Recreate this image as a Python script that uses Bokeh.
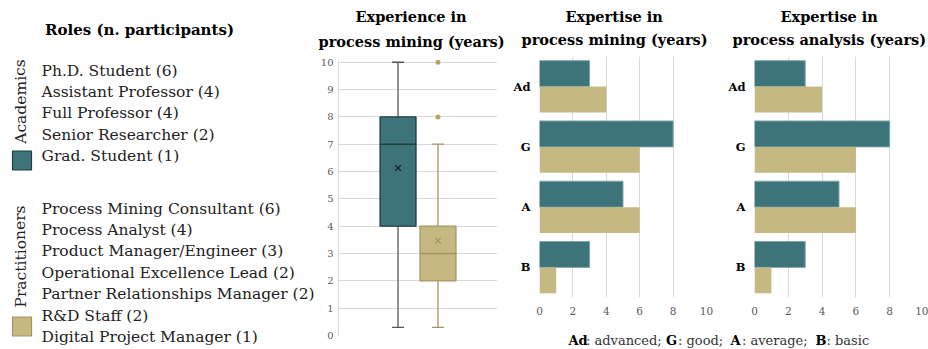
import math
from bokeh.plotting import figure
from bokeh.layouts import row, column
from bokeh.models import Range1d, FactorRange, FixedTicker, Title, ColumnDataSource
from bokeh.transform import dodge
from bokeh.core.properties import value
from bokeh.embed import file_html
from bokeh.resources import INLINE

# ---------------- data ----------------
legend_title = "Roles (n. participants)"
academic_label = "Academics"
practitioner_label = "Practitioners"
academic_roles = ["Ph.D. Student (6)", "Assistant Professor (4)", "Full Professor (4)",
                  "Senior Researcher (2)", "Grad. Student (1)"]
practitioner_roles = ["Process Mining Consultant (6)", "Process Analyst (4)",
                      "Product Manager/Engineer (3)", "Operational Excellence Lead (2)",
                      "Partner Relationships Manager (2)", "R&D Staff (2)",
                      "Digital Project Manager (1)"]

box_title = ["Experience in", "process mining (years)"]
groups = ["Academics", "Practitioners"]
exp_whisker_low = [0.3, 0.3]
exp_q1 = [4, 2]
exp_median = [7, 3]
exp_q3 = [8, 4]
exp_whisker_high = [10, 7]
exp_mean = [6.13, 3.47]
outlier_group = ["Practitioners", "Practitioners"]
outlier_values = [8, 10]
exp_ticks = [0, 1, 2, 3, 4, 5, 6, 7, 8, 9, 10]

levels = ["Ad", "G", "A", "B"]
pm_title = ["Expertise in", "process mining (years)"]
pm_academics = [3, 8, 5, 3]
pm_practitioners = [4, 6, 6, 1]
pa_title = ["Expertise in", "process analysis (years)"]
pa_academics = [3, 8, 5, 3]
pa_practitioners = [4, 6, 6, 1]
bar_ticks = [0, 2, 4, 6, 8, 10]

caption_parts = [("Ad", True), (": advanced;", False), ("G", True), (": good;", False),
                 ("A", True), (": average;", False), ("B", True), (": basic", False)]

# ---------------- styles ----------------
FONT = "DejaVu Serif"
TEAL = "#3d747a"
TAN = "#c4b883"
TEAL_DARK = "#1f3c3f"
TAN_DARK = "#a3955f"
GRID = "#d9d9d9"
TICK_TXT = "#595959"
TXT = "#222222"
TITLE_SIZE = "14.5px"


def bare(fig):
    fig.outline_line_color = None
    return fig


def two_line_title(fig, lines, off1, off2, s1, s2):
    # figure's own title is the outer line; the added one sits next to the frame
    fig.title.text = lines[0]
    fig.title.align = "left"
    fig.title.offset = off1
    fig.title.standoff = s1
    fig.title.text_font = FONT
    fig.title.text_font_size = TITLE_SIZE
    fig.title.text_font_style = "bold"
    fig.title.text_color = "black"
    fig.add_layout(Title(text=lines[1], align="left", offset=off2, standoff=s2, text_font=FONT,
                         text_font_size=TITLE_SIZE, text_font_style="bold", text_color="black"), "above")


def plain_axis(ax, size, color, standoff, bold=False):
    ax.axis_line_color = None
    ax.major_tick_line_color = None
    ax.minor_tick_line_color = None
    ax.major_tick_out = 0
    ax.major_tick_in = 0
    ax.minor_tick_out = 0
    ax.minor_tick_in = 0
    ax.major_label_standoff = standoff
    ax.major_label_text_font = FONT
    ax.major_label_text_font_size = size
    ax.major_label_text_color = color
    if bold:
        ax.major_label_text_font_style = "bold"


# ---------------- legend panel ----------------
LW = 316
leg = figure(width=LW, height=349, x_range=Range1d(0, LW), y_range=Range1d(349, 0),
             x_axis_location=None, y_axis_location=None, toolbar_location=None,
             output_backend="svg", min_border=0)
bare(leg)
leg.grid.visible = False

leg.text(x=[139], y=[29], text=[legend_title], text_font=value(FONT), text_font_size="15px",
         text_font_style="bold", text_align="center", text_baseline="middle", text_color="black")

acad_y = [70 + 21.4 * i for i in range(len(academic_roles))]
prac_y = [208 + 21.4 * i for i in range(len(practitioner_roles))]
leg.text(x=[41] * len(academic_roles), y=acad_y, text=academic_roles, text_font=value(FONT),
         text_font_size="15.5px", text_baseline="middle", text_color=TXT)
leg.text(x=[41] * len(practitioner_roles), y=prac_y, text=practitioner_roles, text_font=value(FONT),
         text_font_size="15.5px", text_baseline="middle", text_color=TXT)
leg.text(x=[20, 20], y=[101, 256], text=[academic_label, practitioner_label], angle=[math.pi / 2] * 2,
         text_font=value(FONT), text_font_size="15.5px", text_align="center",
         text_baseline="middle", text_color=TXT)
leg.scatter(x=[21.5, 21.5], y=[160, 326], marker="square", size=19,
            fill_color=[TEAL, TAN], line_color=[TEAL_DARK, TAN_DARK], line_width=1.2)

# ---------------- box plot ----------------
box = figure(width=194, height=349, x_range=FactorRange(factors=groups, range_padding=0.99),
             y_range=Range1d(0, 10.1), x_axis_location=None, toolbar_location=None,
             output_backend="svg",
             min_border_left=22, min_border_right=13, min_border_top=59, min_border_bottom=14)
bare(box)
two_line_title(box, box_title, 17, -20, -8, 20)

box.xgrid.visible = False
box.ygrid.ticker = FixedTicker(ticks=exp_ticks)
box.ygrid.grid_line_color = GRID
box.yaxis.ticker = FixedTicker(ticks=exp_ticks)
plain_axis(box.yaxis, "10px", TICK_TXT, 5)
box.yaxis.axis_line_color = GRID

box_src = ColumnDataSource(dict(group=groups, low=exp_whisker_low, q1=exp_q1, med=exp_median,
                                q3=exp_q3, high=exp_whisker_high, mean=exp_mean,
                                fill=[TEAL, TAN], line=[TEAL_DARK, TAN_DARK],
                                whisk=["#555555", TAN_DARK], meanc=["#111111", TAN_DARK]))
box.segment(x0="group", y0="low", x1="group", y1="high", line_color="whisk", line_width=1.3, source=box_src)
for col in ("low", "high"):
    box.segment(x0=dodge("group", -0.15, range=box.x_range), x1=dodge("group", 0.15, range=box.x_range),
                y0=col, y1=col, line_color="whisk", line_width=1.3, source=box_src)
box.vbar(x="group", bottom="q1", top="q3", width=0.9, fill_color="fill", line_color="line",
         line_width=1.3, source=box_src)
box.segment(x0=dodge("group", -0.45, range=box.x_range), x1=dodge("group", 0.45, range=box.x_range),
            y0="med", y1="med", line_color="line", line_width=1.6, source=box_src)
box.scatter(x="group", y="mean", marker="x", size=8, line_color="meanc", line_width=1.1, source=box_src)
out_src = ColumnDataSource(dict(group=outlier_group, val=outlier_values))
box.scatter(x="group", y="val", marker="circle", size=5, fill_color="#b3a46d", line_color=None, source=out_src)


# ---------------- bar charts ----------------
def bar_chart(w, left, right, titles, offs, acad, prac):
    p = figure(width=w, height=325, x_range=Range1d(0, 10), y_range=FactorRange(factors=levels[::-1]),
               toolbar_location=None, output_backend="svg",
               min_border_left=left, min_border_right=right, min_border_top=56, min_border_bottom=28)
    bare(p)
    two_line_title(p, titles, offs[0], offs[1], -8, 17)
    p.ygrid.visible = False
    p.xgrid.ticker = FixedTicker(ticks=bar_ticks)
    p.xgrid.grid_line_color = GRID
    p.xaxis.ticker = FixedTicker(ticks=bar_ticks)
    plain_axis(p.xaxis, "10.5px", TICK_TXT, 9)
    plain_axis(p.yaxis, "11.5px", "black", 9, bold=True)
    src = ColumnDataSource(dict(lvl=levels, acad=acad, prac=prac))
    p.hbar(y=dodge("lvl", 0.215, range=p.y_range), left=0, right="acad", height=0.43,
           fill_color=TEAL, line_color="#7fa3a7", line_width=1, source=src)
    p.hbar(y=dodge("lvl", -0.215, range=p.y_range), left=0, right="prac", height=0.43,
           fill_color=TAN, line_color=None, source=src)
    return p


bar1 = bar_chart(210, 28, 14, pm_title, (26, -18), pm_academics, pm_practitioners)
bar2 = bar_chart(208, 34, 5, pa_title, (26, -22), pa_academics, pa_practitioners)

# ---------------- caption ----------------
cap = figure(width=418, height=24, x_range=Range1d(510, 928), y_range=Range1d(349, 325),
             x_axis_location=None, y_axis_location=None, toolbar_location=None,
             output_backend="svg", min_border=0)
bare(cap)
cap.grid.visible = False
cap_x = [568, 585.5, 665.5, 677.5, 730, 741.5, 815, 826]
for (txt, bold), xx in zip(caption_parts, cap_x):
    cap.text(x=[xx], y=[340], text=[txt], text_font=value(FONT), text_font_size="13px",
             text_font_style="bold" if bold else "normal", text_baseline="middle",
             text_color="black" if bold else "#333333")

layout = row(column(leg), column(box), column(row(bar1, bar2), cap))
open("out.html", "w").write(file_html(layout, INLINE))
